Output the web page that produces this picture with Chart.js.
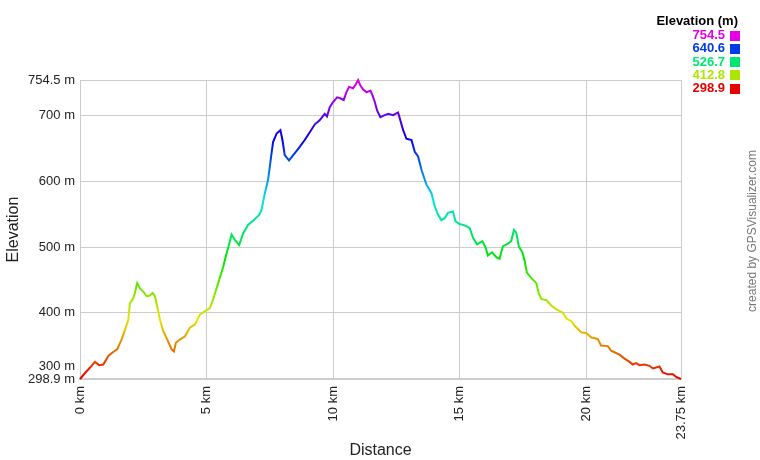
<!DOCTYPE html>
<html>
<head>
<meta charset="utf-8">
<title>Elevation profile</title>
<script src="https://cdn.jsdelivr.net/npm/chart.js@4.4.0/dist/chart.umd.min.js"></script>
<style>
  body { margin: 0; background: #fff; }
  canvas { display: block; }
</style>
</head>
<body>
<canvas id="profileChart" width="760" height="460"></canvas>
<script>
// track: distance (km) and elevation (m)
const distanceKm = [
  0, 0.2, 0.39, 0.59, 0.76, 0.92, 1.12, 1.31, 1.47, 1.64, 1.78, 1.91, 1.97, 2.1, 2.17, 2.26,
  2.37, 2.5, 2.63, 2.76, 2.87, 2.96, 3.05, 3.16, 3.29, 3.45, 3.62, 3.71, 3.79, 3.95, 4.15,
  4.34, 4.54, 4.74, 4.93, 5.13, 5.26, 5.46, 5.66, 5.79, 5.92, 5.99, 6.12, 6.29, 6.45, 6.65,
  6.84, 7.08, 7.17, 7.3, 7.43, 7.5, 7.57, 7.63, 7.77, 7.92, 8.0, 8.09, 8.26, 8.49, 8.69,
  8.88, 9.08, 9.28, 9.47, 9.67, 9.76, 9.87, 10.0, 10.16, 10.26, 10.42, 10.53, 10.63, 10.79,
  10.9, 10.99, 11.08, 11.19, 11.32, 11.48, 11.56, 11.65, 11.74, 11.87, 12.04, 12.18, 12.37,
  12.57, 12.66, 12.77, 12.9, 13.1, 13.23, 13.36, 13.5, 13.69, 13.89, 14.02, 14.15, 14.28,
  14.41, 14.54, 14.74, 14.84, 15.0, 15.2, 15.4, 15.53, 15.69, 15.9, 16.03, 16.12, 16.28,
  16.46, 16.58, 16.71, 16.91, 17.04, 17.15, 17.24, 17.34, 17.48, 17.57, 17.66, 17.83, 17.96,
  18.03, 18.14, 18.23, 18.43, 18.62, 18.82, 19.08, 19.22, 19.42, 19.55, 19.81, 20.0, 20.21,
  20.46, 20.59, 20.86, 20.99, 21.32, 21.52, 21.72, 21.84, 21.98, 22.11, 22.31, 22.5, 22.64,
  22.9, 23.03, 23.23, 23.43, 23.56, 23.75
];
const elevationM = [
  298.9, 308, 316, 325, 320, 321, 334, 340, 344, 359, 374, 389, 414, 422, 430, 445,
  437, 432, 425, 426, 430, 425, 410, 389, 372, 359, 344, 341, 354, 359, 364,
  377, 382, 397, 402, 407, 420, 445, 470, 490, 508, 519, 511, 503, 521, 534,
  540, 549, 556, 581, 602, 622, 643, 660, 673, 678, 663, 640, 632, 643, 653,
  663, 675, 687, 693, 703, 699, 713, 721, 728, 727, 724, 736, 744, 742,
  748, 754.5, 746, 740, 736, 738, 731, 721, 708, 698, 701, 703, 701,
  705, 693, 678, 665, 663, 645, 638, 617, 595, 582, 562, 549, 541,
  544, 552, 554, 539, 535, 533, 529, 514, 504, 509, 499, 487, 492,
  484, 482, 501, 505, 509, 526, 522, 501, 492, 479, 461, 453, 448,
  445, 428, 421, 419, 411, 405, 400, 391, 387, 380, 370, 369, 362,
  360, 350, 349, 342, 336, 330, 325, 321, 323, 320, 321, 319, 315,
  318, 309, 306, 306, 302, 298.9
];
const xTickValues = [0, 5, 10, 15, 20, 23.75];
const yTickValues = [298.9, 300, 400, 500, 600, 700, 754.5];
const legendValues = [754.5, 640.6, 526.7, 412.8, 298.9];

const minElev = 298.9;
const maxElev = 754.5;
const FONT = "'Liberation Sans', Arial, sans-serif";

Chart.defaults.font.family = FONT;
Chart.defaults.color = '#222';

// red at the lowest point, through the rainbow, to magenta at the top
function elevColor(v) {
  const hue = 300 * (v - minElev) / (maxElev - minElev);
  return 'hsl(' + hue + ', 100%, 45%)';
}

function lineGradient(context) {
  const chart = context.chart;
  const y = chart.scales.y;
  if (!chart.chartArea || !y) return '#e60000';
  const g = chart.ctx.createLinearGradient(0, y.getPixelForValue(minElev), 0, y.getPixelForValue(maxElev));
  for (let i = 0; i <= 10; i++) {
    g.addColorStop(i / 10, 'hsl(' + (30 * i) + ', 100%, 45%)');
  }
  return g;
}

// the 300 m label sits just above the 298.9 m one, so push it up a line
const isCrowded = (v) => v === 300;

const legendPlugin = {
  id: 'elevLegend',
  afterDraw(chart) {
    const ctx = chart.ctx;
    ctx.save();
    ctx.font = 'bold 13px ' + FONT;
    ctx.textAlign = 'right';
    ctx.textBaseline = 'alphabetic';
    ctx.fillStyle = '#000';
    ctx.fillText('Elevation (m)', 738, 25);
    ctx.textBaseline = 'middle';
    legendValues.forEach((v, i) => {
      const cy = 35.5 + i * 13.3;
      ctx.fillStyle = elevColor(v);
      ctx.fillText(v.toFixed(1), 725, cy);
      ctx.fillRect(730, Math.round(cy - 5), 10, 10);
    });
    // credit line on the right edge
    ctx.translate(753, 231);
    ctx.rotate(-Math.PI / 2);
    ctx.textAlign = 'center';
    ctx.font = '12px ' + FONT;
    ctx.fillStyle = '#777';
    ctx.fillText('created by GPSVisualizer.com', 0, 0);
    ctx.restore();
  }
};

const ctx = document.getElementById('profileChart').getContext('2d');
new Chart(ctx, {
  type: 'line',
  data: {
    datasets: [{
      label: 'Elevation',
      data: distanceKm.map((d, i) => ({ x: d, y: elevationM[i] })),
      borderColor: lineGradient,
      borderWidth: 2,
      pointRadius: 0,
      tension: 0,
      fill: false,
      clip: 3,
    }],
  },
  options: {
    responsive: false,
    animation: false,
    layout: { padding: { top: 80, right: 79, left: 0, bottom: 0 } },
    plugins: {
      legend: { display: false },
      tooltip: { enabled: false },
    },
    scales: {
      x: {
        type: 'linear',
        min: 0,
        max: 23.75,
        afterBuildTicks: (scale) => { scale.ticks = xTickValues.map(v => ({ value: v })); },
        afterFit: (scale) => { scale.height = 81; },
        ticks: {
          autoSkip: false,
          minRotation: 90,
          maxRotation: 90,
          padding: 7,
          font: { size: 13 },
          callback: (v) => v + ' km',
        },
        grid: { color: '#cccccc', drawTicks: false },
        border: { color: '#cccccc', width: 2 },
        title: {
          display: true,
          text: 'Distance',
          font: { size: 16 },
          padding: { top: 4, bottom: 0 },
        },
      },
      y: {
        type: 'linear',
        min: minElev,
        max: maxElev,
        afterBuildTicks: (scale) => { scale.ticks = yTickValues.map(v => ({ value: v })); },
        afterFit: (scale) => { scale.width = 80; },
        ticks: {
          autoSkip: false,
          padding: 5,
          font: (c) => (c.tick && isCrowded(c.tick.value))
            ? { size: 13, lineHeight: 1.75 }
            : { size: 13 },
          callback: (v) => isCrowded(v) ? [v + ' m', ''] : v + ' m',
        },
        grid: { color: '#cccccc', drawTicks: false },
        border: { color: '#cccccc' },
        title: {
          display: true,
          text: 'Elevation',
          font: { size: 16 },
          padding: { top: 4, bottom: 4 },
        },
      },
    },
  },
  plugins: [legendPlugin],
});
</script>
</body>
</html>
